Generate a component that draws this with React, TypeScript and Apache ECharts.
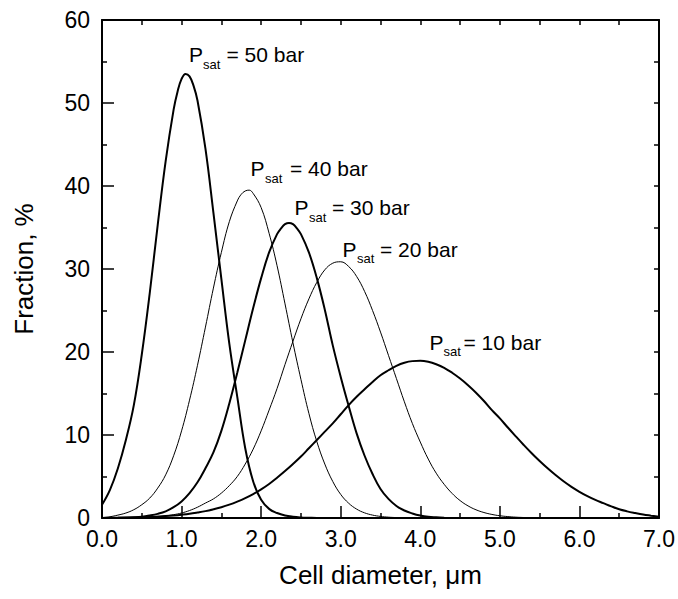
import React, { useEffect, useRef } from 'react';
import * as echarts from 'echarts';

// Cell diameter (µm) vs fraction (%)
const psat50: [number, number][] = [
  [0, 1.6], [0.1, 3.4], [0.2, 6.0], [0.3, 9.4], [0.4, 13.6], [0.5, 19.7], [0.6, 27.1], [0.7, 35.3],
  [0.8, 43.0], [0.9, 49.2], [0.95, 51.4], [1.0, 52.9], [1.05, 53.5], [1.1, 53.2], [1.15, 52.1],
  [1.2, 50.3], [1.3, 44.5], [1.4, 36.8], [1.5, 28.8], [1.6, 21.0], [1.7, 14.6], [1.8, 8.4],
  [1.9, 4.4], [2.0, 2.2], [2.1, 1.1], [2.2, 0.6], [2.3, 0.3], [2.4, 0.15], [2.5, 0.07], [2.6, 0.03],
  [2.7, 0],
];
const psat40: [number, number][] = [
  [0, 0.05], [0.1, 0.15], [0.2, 0.35], [0.3, 0.6], [0.4, 1.0], [0.5, 1.6], [0.6, 2.4], [0.7, 3.6],
  [0.8, 5.2], [0.9, 7.5], [1.0, 10.5], [1.1, 14.2], [1.2, 18.4], [1.3, 23.0], [1.4, 27.7],
  [1.5, 32.0], [1.6, 35.7], [1.7, 38.2], [1.75, 39.0], [1.8, 39.4], [1.85, 39.5], [1.9, 39.1],
  [2.0, 37.4], [2.1, 34.3], [2.2, 30.4], [2.3, 25.8], [2.4, 21.1], [2.5, 16.7], [2.6, 12.6],
  [2.7, 9.2], [2.8, 6.5], [2.9, 4.4], [3.0, 2.84], [3.1, 1.78], [3.2, 1.07], [3.3, 0.62],
  [3.4, 0.35], [3.5, 0.19], [3.6, 0.1], [3.7, 0.05], [3.8, 0.02],
];
const psat30: [number, number][] = [
  [0, 0], [0.2, 0.02], [0.3, 0.04], [0.4, 0.08], [0.5, 0.15], [0.6, 0.3], [0.7, 0.5], [0.8, 0.8],
  [0.9, 1.3], [1.0, 2.0], [1.1, 3.0], [1.2, 4.3], [1.3, 6.0], [1.4, 7.9], [1.5, 10.5], [1.6, 13.8],
  [1.7, 17.5], [1.8, 21.4], [1.9, 25.3], [2.0, 28.9], [2.1, 32.0], [2.2, 34.2], [2.25, 34.9],
  [2.3, 35.4], [2.35, 35.55], [2.4, 35.4], [2.45, 34.9], [2.5, 34.2], [2.6, 32.0], [2.7, 28.9],
  [2.8, 25.1], [2.9, 20.8], [3.0, 17.0], [3.1, 13.5], [3.2, 10.2], [3.3, 7.5], [3.4, 5.3],
  [3.5, 3.5], [3.6, 2.3], [3.7, 1.45], [3.8, 0.9], [3.9, 0.55], [4.0, 0.3], [4.1, 0.15],
  [4.2, 0.08], [4.3, 0.03],
];
const psat20: [number, number][] = [
  [0, 0], [0.5, 0.04], [0.6, 0.08], [0.7, 0.15], [0.8, 0.25], [0.9, 0.4], [1.0, 0.6], [1.1, 0.9],
  [1.2, 1.3], [1.3, 1.8], [1.4, 2.3], [1.5, 3.0], [1.6, 3.9], [1.7, 5.0], [1.8, 6.5], [1.9, 8.3],
  [2.0, 10.5], [2.1, 13.0], [2.2, 15.6], [2.3, 18.5], [2.4, 21.3], [2.5, 24.0], [2.6, 26.4],
  [2.7, 28.4], [2.8, 29.9], [2.9, 30.7], [3.0, 30.87], [3.1, 30.3], [3.2, 29.1], [3.3, 27.3],
  [3.4, 25.0], [3.5, 22.4], [3.6, 19.6], [3.7, 16.8], [3.8, 14.0], [3.9, 11.4], [4.0, 9.15],
  [4.1, 7.1], [4.2, 5.4], [4.3, 4.06], [4.4, 2.96], [4.5, 2.1], [4.6, 1.46], [4.7, 0.99],
  [4.8, 0.66], [4.9, 0.43], [5.0, 0.27], [5.1, 0.17], [5.2, 0.1], [5.3, 0.06],
];
const psat10: [number, number][] = [
  [0, 0.01], [0.2, 0.03], [0.4, 0.07], [0.6, 0.13], [0.8, 0.24], [0.9, 0.31], [1.0, 0.4],
  [1.1, 0.51], [1.2, 0.66], [1.3, 0.83], [1.4, 1.05], [1.5, 1.3], [1.6, 1.61], [1.7, 1.98],
  [1.8, 2.4], [1.9, 2.89], [2.0, 3.45], [2.1, 4.1], [2.2, 4.85], [2.3, 5.65], [2.4, 6.5],
  [2.5, 7.4], [2.6, 8.4], [2.7, 9.4], [2.8, 10.4], [2.9, 11.4], [3.0, 12.5], [3.1, 13.6],
  [3.2, 14.6], [3.3, 15.5], [3.4, 16.4], [3.5, 17.2], [3.6, 17.8], [3.7, 18.33], [3.8, 18.7],
  [3.9, 18.9], [4.0, 18.94], [4.1, 18.82], [4.2, 18.53], [4.3, 18.1], [4.4, 17.5], [4.5, 16.8],
  [4.6, 16.0], [4.7, 15.1], [4.8, 14.1], [4.9, 13.0], [5.0, 12.0], [5.1, 10.9], [5.2, 9.84],
  [5.3, 8.8], [5.4, 7.8], [5.5, 6.86], [5.6, 5.98], [5.7, 5.17], [5.8, 4.42], [5.9, 3.75],
  [6.0, 3.16], [6.1, 2.64], [6.2, 2.18], [6.3, 1.79], [6.4, 1.4], [6.5, 1.05], [6.6, 0.8],
  [6.7, 0.6], [6.8, 0.42], [6.9, 0.28], [7.0, 0.15],
];

const seriesNames = ['50 bar', '40 bar', '30 bar', '20 bar', '10 bar'];
const seriesData = [psat50, psat40, psat30, psat20, psat10];
const labelRest = ['= 50 bar', '= 40 bar', '= 30 bar', '= 20 bar', '= 10 bar'];

const xTitle = 'Cell diameter, \u03bcm';
const yTitle = 'Fraction, %';

const FONT = 'Arial, "Liberation Sans", sans-serif';

// annotation layout (pixels): P left edge, baseline; subscript x; remainder x
const labelLayout = [
  { px: 189, base: 62, sx: 203, rx: 226.5, thick: true },
  { px: 250.5, base: 176, sx: 265, rx: 290, thick: false },
  { px: 294.5, base: 215, sx: 309, rx: 332, thick: true },
  { px: 342.5, base: 256.5, sx: 357, rx: 380, thick: false },
  { px: 429.5, base: 349.5, sx: 443.5, rx: 463.5, thick: true },
];

export default function App() {
  const ref = useRef<HTMLDivElement>(null);
  useEffect(() => {
    const chart = echarts.init(ref.current!, null, { renderer: 'svg' });
    const black = '#000';
    const graphics: any[] = [];
    labelLayout.forEach((l, i) => {
      graphics.push({
        type: 'text', x: l.px, y: l.base - 7.4,
        style: { text: 'P', font: `21px ${FONT}`, fill: black, verticalAlign: 'middle', align: 'left' },
      });
      graphics.push({
        type: 'text', x: l.sx, y: l.base + 7 - 4.6,
        style: { text: 'sat', font: `13px ${FONT}`, fill: black, verticalAlign: 'middle', align: 'left' },
      });
      graphics.push({
        type: 'text', x: l.rx, y: l.base - 7.4,
        style: { text: labelRest[i], font: `21px ${FONT}`, fill: black, verticalAlign: 'middle', align: 'left' },
      });
    });

    chart.setOption({
      animation: false,
      backgroundColor: '#fff',
      grid: { left: 102, top: 20, right: 16, bottom: 81, containLabel: false },
      xAxis: [
        {
          type: 'value', min: 0, max: 7, interval: 1, position: 'bottom',
          name: xTitle, nameLocation: 'middle', nameGap: 44,
          nameTextStyle: { fontSize: 26, color: black, fontFamily: FONT },
          axisLine: { show: true, onZero: false, lineStyle: { color: black, width: 2 } },
          axisTick: { show: true, inside: true, length: 12, lineStyle: { color: black, width: 1.5 } },
          minorTick: { show: true, splitNumber: 2, length: 5, lineStyle: { color: black, width: 1.5 } },
          axisLabel: { color: black, fontSize: 23, fontFamily: FONT, margin: 9, formatter: (v: number) => v.toFixed(1) },
          splitLine: { show: false },
        },
        {
          type: 'value', min: 0, max: 7, interval: 0.5, position: 'top',
          axisLine: { show: true, onZero: false, lineStyle: { color: black, width: 2 } },
          axisTick: { show: true, inside: true, length: 5, lineStyle: { color: black, width: 1.5 } },
          axisLabel: { show: false },
          splitLine: { show: false },
        },
      ],
      yAxis: [
        {
          type: 'value', min: 0, max: 60, interval: 10, position: 'left',
          name: yTitle, nameLocation: 'middle', nameGap: 65,
          nameTextStyle: { fontSize: 26, color: black, fontFamily: FONT },
          axisLine: { show: true, onZero: false, lineStyle: { color: black, width: 2 } },
          axisTick: { show: true, inside: true, length: 12, lineStyle: { color: black, width: 1.5 } },
          minorTick: { show: true, splitNumber: 2, length: 5, lineStyle: { color: black, width: 1.5 } },
          axisLabel: { color: black, fontSize: 23, fontFamily: FONT, margin: 12 },
          splitLine: { show: false },
        },
        {
          type: 'value', min: 0, max: 60, interval: 5, position: 'right',
          axisLine: { show: true, onZero: false, lineStyle: { color: black, width: 2 } },
          axisTick: { show: true, inside: true, length: 5, lineStyle: { color: black, width: 1.5 } },
          axisLabel: { show: false },
          splitLine: { show: false },
        },
      ],
      series: seriesData.map((d, i) => ({
        name: seriesNames[i],
        type: 'line',
        xAxisIndex: 0,
        yAxisIndex: 0,
        data: d,
        smooth: 0.4,
        symbol: 'none',
        showSymbol: false,
        clip: true,
        lineStyle: { color: black, width: labelLayout[i].thick ? 2 : 1 },
        z: 3,
      })),
      graphic: graphics,
    });
    return () => chart.dispose();
  }, []);
  return (
    <div
      ref={ref}
      style={{ position: 'absolute', left: 0, top: 0, width: 678, height: 599, background: '#fff' }}
    />
  );
}
